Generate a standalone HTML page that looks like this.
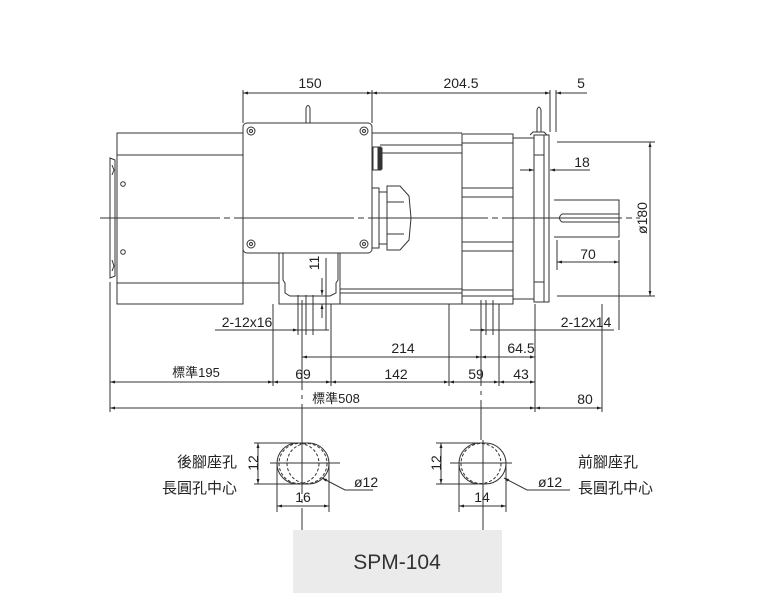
<!DOCTYPE html>
<html><head><meta charset="utf-8"><style>
body{margin:0;background:#fff;}
svg{display:block;}
text{font-family:"Liberation Sans","Noto Sans CJK TC",sans-serif;fill:#222;font-size:14px;}
</style></head><body>
<svg width="768" height="611" viewBox="0 0 768 611" xmlns="http://www.w3.org/2000/svg">
<defs>
<marker id="a" viewBox="0 0 10 10" refX="10" refY="5" markerWidth="7" markerHeight="5" orient="auto-start-reverse"><path d="M0,2 L10,5 L0,8 z" fill="#222"/></marker>
</defs>
<g stroke="#333" stroke-width="1" fill="none">
<line x1="100" y1="218" x2="640" y2="218" stroke-dasharray="120,4,6,4"/>
<rect x="117" y="133" width="126" height="171"/>
<line x1="117" y1="155" x2="243" y2="155"/>
<line x1="117" y1="283" x2="279" y2="283"/>
<path d="M110,158 L115,160 L115,276 L110,278 Z"/>
<path d="M112,165 L114,170 L112,175 M112,260 L114,266 L112,271"/>
<circle cx="123" cy="184" r="2.3"/><circle cx="123" cy="252" r="2.3"/>
<rect x="243" y="123" width="129" height="130" rx="4"/>
<path d="M306,123 L306,108 Q308,103 310,108 L310,123"/>
<circle cx="251" cy="131" r="4"/><circle cx="251" cy="131" r="1.5"/>
<circle cx="364" cy="131" r="4"/><circle cx="364" cy="131" r="1.5"/>
<circle cx="251" cy="244" r="4"/><circle cx="251" cy="244" r="1.5"/>
<circle cx="364" cy="244" r="4"/><circle cx="364" cy="244" r="1.5"/>
<path d="M279,253 L279,304 L340,304 L340,253"/>
<path d="M283,253 L283,280 L285,283 L285,293 L290,296 L330,296 L336,293 L336,283 L338,280 L338,253"/>
<line x1="326" y1="258" x2="326" y2="330"/>
<line x1="372" y1="133" x2="462" y2="133"/>
<line x1="380" y1="145" x2="462" y2="145"/>
<line x1="380" y1="153" x2="462" y2="153"/>
<line x1="340" y1="289" x2="462" y2="289"/>
<line x1="340" y1="293" x2="462" y2="293"/>
<line x1="340" y1="304" x2="462" y2="304"/>
<rect x="373" y="147" width="8" height="23"/>
<rect x="378" y="148" width="4" height="21" fill="#333"/>
<rect x="372" y="188" width="7" height="60"/>
<rect x="379" y="192" width="8" height="52"/>
<path d="M387,186 L400,186 L409,196 L411,218 L409,240 L400,250 L387,250 Z"/>
<line x1="387" y1="202" x2="404" y2="202"/><line x1="387" y1="234" x2="404" y2="234"/>
<rect x="462" y="134" width="51" height="170"/>
<line x1="462" y1="143" x2="513" y2="143"/>
<line x1="462" y1="188" x2="513" y2="188"/><line x1="462" y1="197" x2="513" y2="197"/>
<line x1="462" y1="242" x2="513" y2="242"/><line x1="462" y1="251" x2="513" y2="251"/>
<line x1="462" y1="290" x2="513" y2="290"/><line x1="462" y1="296" x2="513" y2="296"/>
<rect x="513" y="138" width="21" height="161"/>
<rect x="534" y="135" width="15" height="167"/>
<line x1="544" y1="135" x2="544" y2="302"/>
<line x1="534" y1="155" x2="544" y2="155"/>
<line x1="534" y1="282" x2="544" y2="282"/>
<path d="M530,135 L533,132 L544,132 L547,135"/>
<path d="M537,132 L537,110 Q539,104 541,110 L541,132"/>
<path d="M554,200 L619,200 L619,237 L554,237"/>
<path d="M619,214 L562,214 Q557,218 562,222 L619,222"/>
<line x1="243" y1="90" x2="243" y2="123"/>
<line x1="372" y1="90" x2="372" y2="123"/>
<line x1="550" y1="90" x2="550" y2="132"/>
<line x1="556" y1="90" x2="556" y2="132"/>
<line x1="243" y1="93" x2="372" y2="93" marker-start="url(#a)" marker-end="url(#a)"/>
<line x1="372" y1="93" x2="550" y2="93" marker-start="url(#a)" marker-end="url(#a)"/>
<line x1="587" y1="93" x2="556" y2="93" marker-end="url(#a)"/>
<line x1="520" y1="170" x2="534" y2="170" marker-end="url(#a)"/>
<line x1="590" y1="170" x2="550" y2="170" marker-end="url(#a)"/>
<line x1="557" y1="142" x2="655" y2="142"/>
<line x1="557" y1="296" x2="655" y2="296"/>
<line x1="650" y1="142" x2="650" y2="296" marker-start="url(#a)" marker-end="url(#a)"/>
<line x1="619" y1="240" x2="619" y2="330"/>
<line x1="557" y1="240" x2="557" y2="270"/>
<line x1="557" y1="262" x2="619" y2="262" marker-start="url(#a)" marker-end="url(#a)"/>
<line x1="322" y1="278" x2="322" y2="295" marker-end="url(#a)"/>
<line x1="322" y1="318" x2="322" y2="304" marker-end="url(#a)"/>
<line x1="215" y1="330" x2="329" y2="330"/>
<line x1="298" y1="295" x2="298" y2="335"/><line x1="306" y1="295" x2="306" y2="335"/>
<line x1="313" y1="295" x2="313" y2="335"/>
<line x1="290" y1="330" x2="298" y2="330" marker-end="url(#a)"/>
<line x1="470" y1="330" x2="614" y2="330"/>
<line x1="486" y1="300" x2="486" y2="335"/><line x1="493" y1="300" x2="493" y2="335"/>
<line x1="475" y1="330" x2="486" y2="330" marker-end="url(#a)"/>
<line x1="110" y1="282" x2="110" y2="412"/>
<line x1="273" y1="304" x2="273" y2="386"/>
<line x1="331" y1="304" x2="331" y2="386"/>
<line x1="449" y1="304" x2="449" y2="386"/>
<line x1="499" y1="304" x2="499" y2="386"/>
<line x1="535" y1="304" x2="535" y2="412"/>
<line x1="602" y1="304" x2="602" y2="412"/>
<line x1="302" y1="300" x2="302" y2="530" stroke-dasharray="90,5,4,5"/>
<line x1="481" y1="300" x2="481" y2="440" stroke-dasharray="86,5,4,5"/>
<line x1="483" y1="440" x2="483" y2="530"/>
<line x1="302" y1="357" x2="481" y2="357" marker-start="url(#a)" marker-end="url(#a)"/>
<line x1="481" y1="357" x2="535" y2="357" marker-start="url(#a)" marker-end="url(#a)"/>
<line x1="110" y1="382" x2="273" y2="382" marker-start="url(#a)" marker-end="url(#a)"/>
<line x1="273" y1="382" x2="331" y2="382" marker-start="url(#a)" marker-end="url(#a)"/>
<line x1="331" y1="382" x2="449" y2="382" marker-start="url(#a)" marker-end="url(#a)"/>
<line x1="449" y1="382" x2="499" y2="382" marker-start="url(#a)" marker-end="url(#a)"/>
<line x1="499" y1="382" x2="535" y2="382" marker-start="url(#a)" marker-end="url(#a)"/>
<line x1="110" y1="408" x2="535" y2="408" marker-start="url(#a)" marker-end="url(#a)"/>
<line x1="535" y1="408" x2="602" y2="408" marker-start="url(#a)" marker-end="url(#a)"/>
<line x1="270" y1="463" x2="340" y2="463"/>
<path d="M297.5,443 L308.5,443 A20.5,20.5 0 0 1 308.5,484 L297.5,484 A20.5,20.5 0 0 1 297.5,443 Z"/>
<ellipse cx="299" cy="463.5" rx="20" ry="20" stroke-dasharray="3,2"/>
<ellipse cx="307" cy="463.5" rx="20" ry="20" stroke-dasharray="3,2"/>
<line x1="254" y1="443" x2="297" y2="443"/><line x1="254" y1="484" x2="297" y2="484"/>
<line x1="258" y1="443" x2="258" y2="484" marker-start="url(#a)" marker-end="url(#a)"/>
<line x1="277" y1="464" x2="277" y2="512"/><line x1="329" y1="464" x2="329" y2="512"/>
<line x1="277" y1="506" x2="329" y2="506" marker-start="url(#a)" marker-end="url(#a)"/>
<path d="M373,490 L345,490 L322,478" marker-end="url(#a)"/>
<line x1="450" y1="463" x2="512" y2="463"/>
<path d="M479.5,443 L485.5,443 A20.5,20.5 0 0 1 485.5,484 L479.5,484 A20.5,20.5 0 0 1 479.5,443 Z"/>
<ellipse cx="481" cy="463.5" rx="20" ry="20" stroke-dasharray="3,2"/>
<line x1="436" y1="443" x2="478" y2="443"/><line x1="436" y1="484" x2="478" y2="484"/>
<line x1="441" y1="443" x2="441" y2="484" marker-start="url(#a)" marker-end="url(#a)"/>
<line x1="459" y1="464" x2="459" y2="512"/><line x1="506" y1="464" x2="506" y2="512"/>
<line x1="459" y1="506" x2="506" y2="506" marker-start="url(#a)" marker-end="url(#a)"/>
<path d="M570,490 L527,490 L504,478" marker-end="url(#a)"/>
</g>
<text x="310" y="88" text-anchor="middle">150</text>
<text x="461" y="88" text-anchor="middle">204.5</text>
<text x="581" y="88" text-anchor="middle">5</text>
<text x="582" y="167" text-anchor="middle">18</text>
<text x="588" y="259" text-anchor="middle">70</text>
<text transform="translate(647,218) rotate(-90)" text-anchor="middle">ø180</text>
<text transform="translate(319,263) rotate(-90)" text-anchor="middle">11</text>
<text x="247" y="327" text-anchor="middle">2-12x16</text>
<text x="586" y="327" text-anchor="middle">2-12x14</text>
<text x="403" y="353" text-anchor="middle">214</text>
<text x="521" y="353" text-anchor="middle">64.5</text>
<text x="196" y="377" text-anchor="middle" style="font-size:13px">標準195</text>
<text x="303" y="379" text-anchor="middle">69</text>
<text x="396" y="379" text-anchor="middle">142</text>
<text x="476" y="379" text-anchor="middle">59</text>
<text x="521" y="379" text-anchor="middle">43</text>
<text x="336" y="403" text-anchor="middle" style="font-size:13px">標準508</text>
<text x="585" y="404" text-anchor="middle">80</text>
<text transform="translate(258,463) rotate(-90)" text-anchor="middle">12</text>
<text transform="translate(441,463) rotate(-90)" text-anchor="middle">12</text>
<text x="303" y="502" text-anchor="middle">16</text>
<text x="482" y="502" text-anchor="middle">14</text>
<text x="354" y="487">ø12</text>
<text x="538" y="487">ø12</text>
<text x="237" y="467" text-anchor="end" style="font-size:15px">後腳座孔</text>
<text x="237" y="493" text-anchor="end" style="font-size:15px">長圓孔中心</text>
<text x="578" y="467" style="font-size:15px">前腳座孔</text>
<text x="578" y="493" style="font-size:15px">長圓孔中心</text>
<rect x="293" y="530" width="209" height="63" fill="#ebebeb"/>
<text x="397" y="569" text-anchor="middle" style="font-size:21px;fill:#333">SPM-104</text>
</svg>
</body></html>
